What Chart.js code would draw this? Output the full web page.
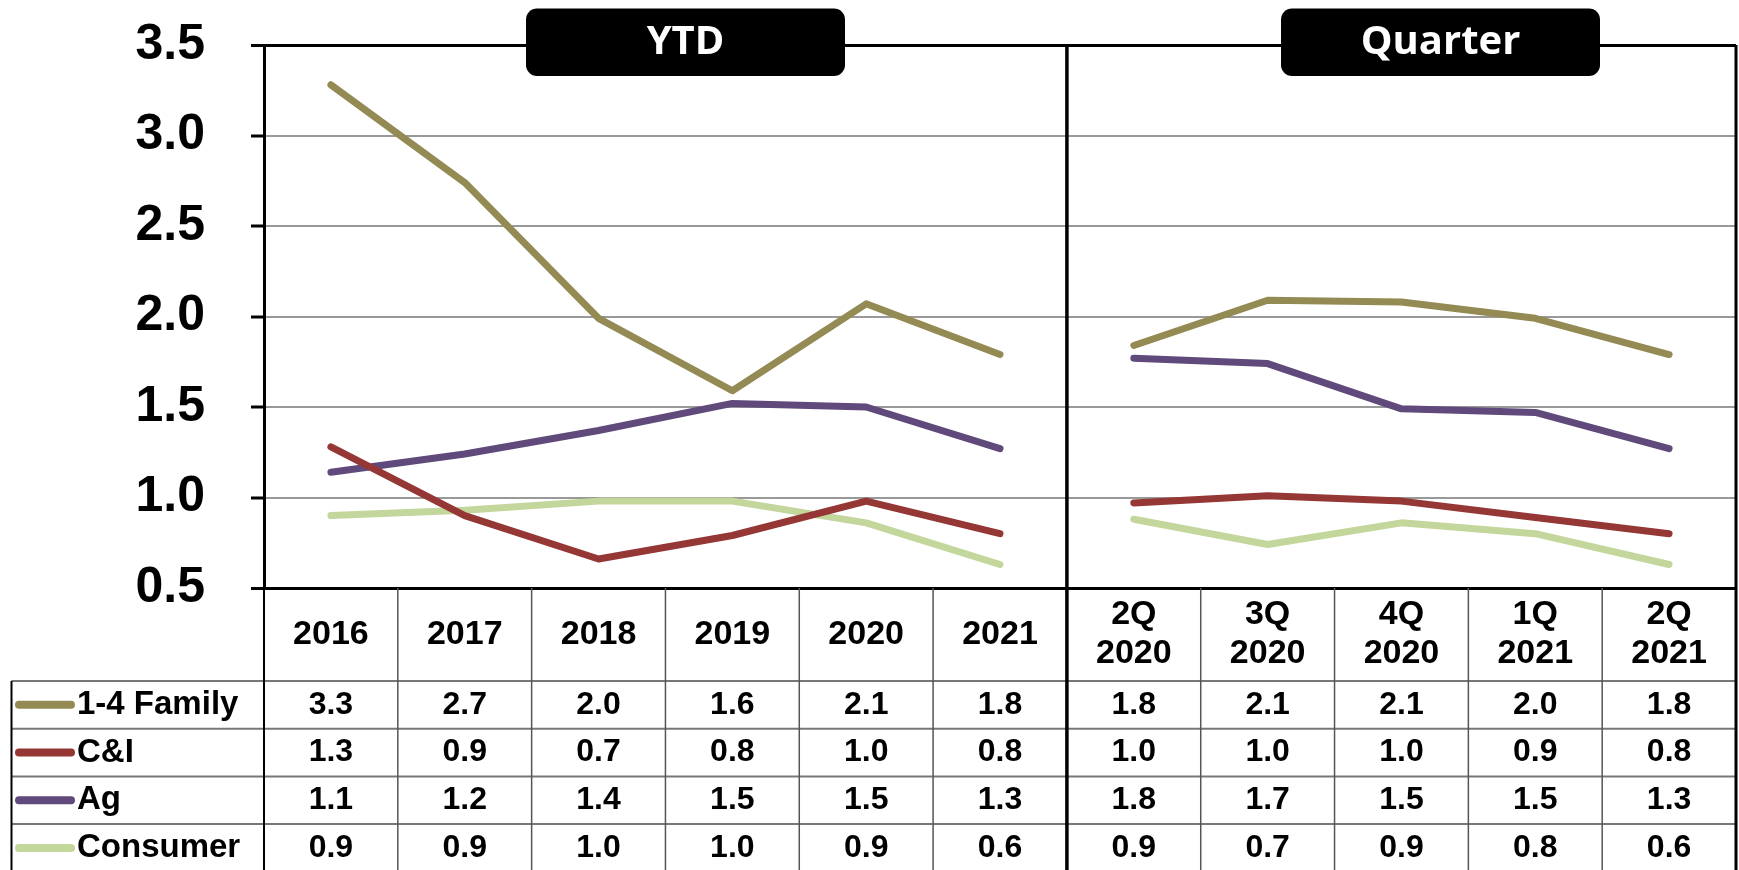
<!DOCTYPE html>
<html lang="en">
<head>
  <meta charset="UTF-8">
  <title>Net Charge-offs: YTD and Quarter</title>
  <script src="https://cdn.jsdelivr.net/npm/chart.js"></script>
  <style>
    body, html {
      margin: 0;
      padding: 0;
      background: #fff;
      overflow: hidden;
    }
    canvas { display: block; }
  </style>
</head>
<body>
  <canvas id="chart" width="1739" height="870"></canvas>

  <script>
    // 6 YTD columns, then 5 quarters
    const ytdLabels = ['2016', '2017', '2018', '2019', '2020', '2021'];
    const quarterLabels = [['2Q', '2020'], ['3Q', '2020'], ['4Q', '2020'], ['1Q', '2021'], ['2Q', '2021']];
    const seriesNames = ['1-4 Family', 'C&I', 'Ag', 'Consumer'];
    const familyValues   = [3.28, 2.74, 1.99, 1.59, 2.07, 1.79, 1.84, 2.09, 2.08, 1.99, 1.79];
    const ciValues       = [1.28, 0.90, 0.66, 0.79, 0.98, 0.80, 0.97, 1.01, 0.98, 0.89, 0.80];
    const agValues       = [1.14, 1.24, 1.37, 1.52, 1.50, 1.27, 1.77, 1.74, 1.49, 1.47, 1.27];
    const consumerValues = [0.90, 0.93, 0.98, 0.98, 0.86, 0.63, 0.88, 0.74, 0.86, 0.80, 0.63];
    const seriesColors = ['#948A54', '#953735', '#604A7B', '#C3D69B'];
    const yMin = 0.5, yMax = 3.5, yStep = 0.5;

    const allLabels = ytdLabels.concat(quarterLabels.map(q => q.join(' ')));
    const allValues = [familyValues, ciValues, agValues, consumerValues];
    const FONT = '"Liberation Sans", Arial, sans-serif';

    // table under the plot + YTD / Quarter tags
    const tablePlugin = {
      id: 'dataTable',
      afterDraw(chart) {
        const ctx = chart.ctx;
        const area = chart.chartArea;
        const xs = chart.scales.x;
        const colW = (area.right - area.left) / allLabels.length;
        const headBottom = 681;
        const rowH = 47.7;
        const tableLeft = 11.5;
        const bottom = 870;
        const split = area.left + colW * ytdLabels.length;

        ctx.save();

        // horizontal row lines
        ctx.strokeStyle = '#777';
        ctx.lineWidth = 2;
        for (let r = 0; r < seriesNames.length; r++) {
          const y = headBottom + r * rowH;
          ctx.beginPath();
          ctx.moveTo(tableLeft, y);
          ctx.lineTo(area.right, y);
          ctx.stroke();
        }

        // vertical column lines
        ctx.strokeStyle = '#555';
        ctx.lineWidth = 1.5;
        for (let i = 1; i < allLabels.length; i++) {
          if (i === ytdLabels.length) continue;
          const x = area.left + i * colW;
          ctx.beginPath();
          ctx.moveTo(x, area.bottom);
          ctx.lineTo(x, bottom);
          ctx.stroke();
        }
        ctx.strokeStyle = '#000';
        ctx.lineWidth = 2;
        ctx.beginPath();
        ctx.moveTo(tableLeft, headBottom);
        ctx.lineTo(tableLeft, bottom);
        ctx.moveTo(area.left, area.bottom);
        ctx.lineTo(area.left, bottom);
        ctx.stroke();

        // YTD / quarter divider and right border
        ctx.lineWidth = 3.5;
        ctx.beginPath();
        ctx.moveTo(split, area.top);
        ctx.lineTo(split, bottom);
        ctx.stroke();
        ctx.lineWidth = 3;
        ctx.beginPath();
        ctx.moveTo(area.right, area.top);
        ctx.lineTo(area.right, bottom);
        ctx.stroke();

        // header labels
        ctx.fillStyle = '#000';
        ctx.textAlign = 'center';
        ctx.textBaseline = 'middle';
        ctx.font = 'bold 34px ' + FONT;
        const headMid = (area.bottom + headBottom) / 2;
        ytdLabels.forEach((lab, i) => {
          ctx.fillText(lab, xs.getPixelForValue(i), headMid);
        });
        quarterLabels.forEach((lab, i) => {
          const x = xs.getPixelForValue(ytdLabels.length + i);
          ctx.fillText(lab[0], x, headMid - 19.5);
          ctx.fillText(lab[1], x, headMid + 19.5);
        });

        // legend column + values
        seriesNames.forEach((name, r) => {
          const yMid = headBottom + rowH * (r + 0.5);
          ctx.strokeStyle = seriesColors[r];
          ctx.lineWidth = 8;
          ctx.lineCap = 'round';
          ctx.beginPath();
          ctx.moveTo(19, yMid);
          ctx.lineTo(71, yMid);
          ctx.stroke();

          ctx.fillStyle = '#000';
          ctx.textAlign = 'left';
          ctx.font = 'bold 33px ' + FONT;
          ctx.fillText(name, 77, yMid);

          ctx.textAlign = 'center';
          ctx.font = 'bold 32px ' + FONT;
          allValues[r].forEach((v, i) => {
            ctx.fillText(v.toFixed(1), xs.getPixelForValue(i), yMid);
          });
        });

        // section tags
        const tags = [
          { text: 'YTD', x: 526, w: 319 },
          { text: 'Quarter', x: 1281, w: 319 }
        ];
        tags.forEach(t => {
          ctx.fillStyle = '#000';
          ctx.beginPath();
          ctx.roundRect(t.x, 8.5, t.w, 67.5, 11);
          ctx.fill();
          ctx.fillStyle = '#fff';
          ctx.textAlign = 'center';
          ctx.textBaseline = 'middle';
          ctx.font = 'bold 40px "Open Sans", sans-serif';
          ctx.fillText(t.text, t.x + t.w / 2, 43);
        });

        ctx.restore();
      }
    };

    const datasets = seriesNames.map((name, k) => ({
      label: name,
      data: allValues[k],
      borderColor: seriesColors[k],
      backgroundColor: seriesColors[k],
      borderWidth: 7,
      borderCapStyle: 'round',
      borderJoinStyle: 'round',
      pointRadius: 0,
      tension: 0,
      fill: false,
      // no segment between the last YTD year and the first quarter
      segment: {
        borderColor: c => c.p0DataIndex === ytdLabels.length - 1 ? 'rgba(0,0,0,0)' : undefined
      }
    }));

    new Chart(document.getElementById('chart').getContext('2d'), {
      type: 'line',
      data: { labels: allLabels, datasets: datasets },
      options: {
        responsive: false,
        animation: false,
        layout: { padding: { top: 45, right: 3, bottom: 282, left: 0 } },
        plugins: {
          legend: { display: false },
          tooltip: { enabled: false }
        },
        scales: {
          x: {
            type: 'category',
            offset: true,
            display: false
          },
          y: {
            min: yMin,
            max: yMax,
            afterFit(scale) {
              scale.width = 264;
              scale.paddingTop = 0;
              scale.paddingBottom = 0;
            },
            ticks: {
              stepSize: yStep,
              padding: 46,
              color: '#000',
              font: { family: FONT, size: 50, weight: 'bold' },
              callback: v => Number(v).toFixed(1)
            },
            grid: {
              color: c => (c.tick && (c.tick.value === yMax || c.tick.value === yMin)) ? '#000' : '#999',
              lineWidth: c => (c.tick && (c.tick.value === yMax || c.tick.value === yMin)) ? 3 : 2,
              drawTicks: true,
              tickLength: 13,
              tickColor: '#000',
              tickWidth: 3
            },
            border: { color: '#000', width: 3 }
          }
        }
      },
      plugins: [tablePlugin]
    });
  </script>
</body>
</html>
